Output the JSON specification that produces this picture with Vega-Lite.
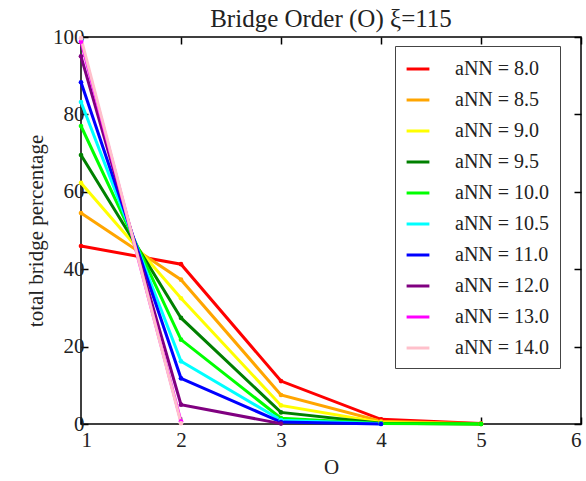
{
  "$schema": "https://vega.github.io/schema/vega-lite/v6.json",
  "autosize": "none",
  "width": 500,
  "height": 387,
  "padding": {"left": 81, "top": 37, "right": 5, "bottom": 57},
  "background": "white",
  "config": {
    "font": "Liberation Serif",
    "view": {"stroke": "black", "strokeWidth": 1.5},
    "axis": {"grid": false, "domain": false, "tickColor": "black", "tickWidth": 1.5, "labelColor": "#222", "titleColor": "#222", "labelFont": "Liberation Serif", "titleFont": "Liberation Serif", "labelFontSize": 21, "titleFontSize": 21, "titleFontWeight": "normal"}
  },
  "title": {"text": "Bridge Order (O) ξ=115", "fontSize": 25, "font": "Liberation Serif", "fontWeight": "normal", "color": "#222", "offset": -6},
  "data": {"values": [
    {"a": "aNN = 8.0", "O": 1, "pct": 46.0}, {"a": "aNN = 8.0", "O": 2, "pct": 41.3}, {"a": "aNN = 8.0", "O": 3, "pct": 11.1}, {"a": "aNN = 8.0", "O": 4, "pct": 1.2}, {"a": "aNN = 8.0", "O": 5, "pct": 0.1},
    {"a": "aNN = 8.5", "O": 1, "pct": 54.5}, {"a": "aNN = 8.5", "O": 2, "pct": 37.3}, {"a": "aNN = 8.5", "O": 3, "pct": 7.5}, {"a": "aNN = 8.5", "O": 4, "pct": 0.7}, {"a": "aNN = 8.5", "O": 5, "pct": 0.05},
    {"a": "aNN = 9.0", "O": 1, "pct": 62.3}, {"a": "aNN = 9.0", "O": 2, "pct": 32.5}, {"a": "aNN = 9.0", "O": 3, "pct": 4.8}, {"a": "aNN = 9.0", "O": 4, "pct": 0.4}, {"a": "aNN = 9.0", "O": 5, "pct": 0.02},
    {"a": "aNN = 9.5", "O": 1, "pct": 69.5}, {"a": "aNN = 9.5", "O": 2, "pct": 27.4}, {"a": "aNN = 9.5", "O": 3, "pct": 3.0}, {"a": "aNN = 9.5", "O": 4, "pct": 0.2}, {"a": "aNN = 9.5", "O": 5, "pct": 0.0},
    {"a": "aNN = 10.0", "O": 1, "pct": 77.0}, {"a": "aNN = 10.0", "O": 2, "pct": 21.8}, {"a": "aNN = 10.0", "O": 3, "pct": 1.5}, {"a": "aNN = 10.0", "O": 4, "pct": 0.1}, {"a": "aNN = 10.0", "O": 5, "pct": 0.0},
    {"a": "aNN = 10.5", "O": 1, "pct": 83.2}, {"a": "aNN = 10.5", "O": 2, "pct": 16.2}, {"a": "aNN = 10.5", "O": 3, "pct": 1.0}, {"a": "aNN = 10.5", "O": 4, "pct": 0.05},
    {"a": "aNN = 11.0", "O": 1, "pct": 88.3}, {"a": "aNN = 11.0", "O": 2, "pct": 11.8}, {"a": "aNN = 11.0", "O": 3, "pct": 0.5}, {"a": "aNN = 11.0", "O": 4, "pct": 0.0},
    {"a": "aNN = 12.0", "O": 1, "pct": 95.0}, {"a": "aNN = 12.0", "O": 2, "pct": 5.0}, {"a": "aNN = 12.0", "O": 3, "pct": 0.1},
    {"a": "aNN = 13.0", "O": 1, "pct": 98.8}, {"a": "aNN = 13.0", "O": 2, "pct": 0.7},
    {"a": "aNN = 14.0", "O": 1, "pct": 99.7}, {"a": "aNN = 14.0", "O": 2, "pct": 0.2}
  ]},
  "encoding": {
    "x": {"field": "O", "type": "quantitative", "scale": {"domain": [1, 6], "nice": false, "zero": false}},
    "y": {"field": "pct", "type": "quantitative", "scale": {"domain": [0, 100], "nice": false}},
    "color": {"field": "a", "type": "nominal",
      "scale": {"domain": ["aNN = 8.0", "aNN = 8.5", "aNN = 9.0", "aNN = 9.5", "aNN = 10.0", "aNN = 10.5", "aNN = 11.0", "aNN = 12.0", "aNN = 13.0", "aNN = 14.0"],
                "range": ["#ff0000", "#ffa500", "#ffff00", "#008000", "#00ff00", "#00ffff", "#0000ff", "#800080", "#ff00ff", "#ffc0cb"]}}
  },
  "layer": [
    {"mark": {"type": "line", "strokeWidth": 3},
     "encoding": {
       "x": {"field": "O", "type": "quantitative", "title": "O", "axis": {"values": [1, 2, 3, 4, 5, 6], "tickSize": -7, "labelPadding": 12, "titlePadding": 6}},
       "y": {"field": "pct", "type": "quantitative", "title": "total bridge percentage", "axis": {"values": [0, 20, 40, 60, 80, 100], "tickSize": -7, "labelPadding": 4, "titlePadding": 6}},
       "color": {"field": "a", "type": "nominal", "legend": {
         "title": null, "orient": "none", "legendX": 314, "legendY": 9,
         "symbolType": "stroke", "symbolSize": 520, "symbolStrokeWidth": 3,
         "labelFontSize": 20, "labelFont": "Liberation Serif", "labelColor": "#222",
         "labelOffset": 24, "rowPadding": 8, "padding": 10,
         "strokeColor": "#444", "fillColor": "white", "cornerRadius": 0, "labelLimit": 200
       }}
     }},
    {"mark": {"type": "point", "filled": true, "size": 22, "opacity": 1},
     "encoding": {
       "x": {"field": "O", "type": "quantitative", "axis": null},
       "y": {"field": "pct", "type": "quantitative", "axis": null},
       "color": {"field": "a", "type": "nominal", "legend": null}}},
    {"mark": {"type": "point", "opacity": 0},
     "encoding": {
       "x": {"field": "O", "type": "quantitative", "axis": {"orient": "top", "values": [1, 2, 3, 4, 5, 6], "tickSize": -7, "labels": false, "title": null}},
       "y": {"field": "pct", "type": "quantitative", "axis": {"orient": "right", "values": [0, 20, 40, 60, 80, 100], "tickSize": -7, "labels": false, "title": null}},
       "color": {"field": "a", "type": "nominal", "legend": null}
     }}
  ],
  "resolve": {"axis": {"x": "independent", "y": "independent"}}
}
